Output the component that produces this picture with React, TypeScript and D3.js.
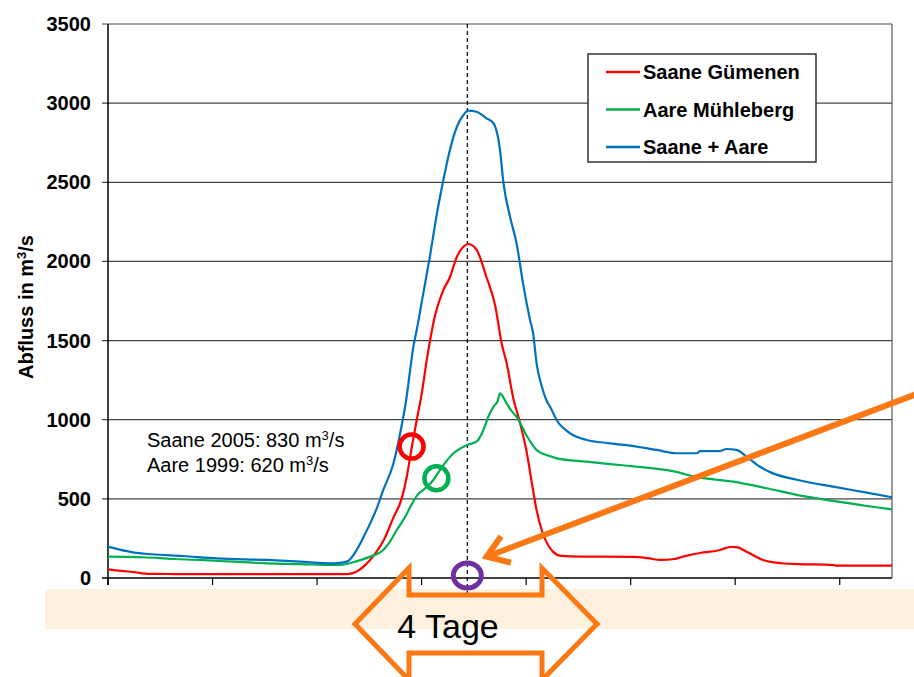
import React from 'react';
import * as d3 from 'd3';

// Abfluss (m3/s) over time (hours)
const saaneGuemenen: [number, number][] = [
  [0, 55], [3, 45], [5.7, 38], [9.6, 26], [15, 25], [30, 24], [45, 24], [54, 24], [55, 25],
  [57, 40], [59, 80], [61.5, 160], [63.5, 250], [65.5, 380], [67.4, 500], [68.6, 640],
  [69.7, 820], [70.9, 1000], [72, 1160], [73.2, 1380], [75.1, 1660], [77, 1820], [78.5, 1900],
  [80.1, 2030], [81.5, 2090], [82.7, 2110], [84.6, 2075], [86.9, 1900], [88.9, 1720],
  [90.4, 1480], [91.5, 1360], [93.1, 1130], [94.5, 990], [96.1, 800], [97.2, 620], [98.4, 430],
  [99.6, 300], [100.7, 225], [102.2, 165], [104, 140], [108.4, 135], [113, 135], [120.6, 134],
  [124, 125], [126.8, 114], [130, 120], [132, 135], [135.9, 158], [140.5, 177], [142.8, 196],
  [144.3, 195], [146.6, 166], [150.4, 114], [154.7, 93], [158.4, 88], [166.5, 82], [167.3, 78],
  [180, 78],
];

const aareMuehleberg: [number, number][] = [
  [0, 135], [8, 131], [15, 120], [21, 114], [28.8, 103], [36.4, 93], [44.1, 88], [51.7, 82],
  [54, 85], [57, 105], [60.2, 135], [63.2, 177], [64.5, 220], [66.3, 303], [68.5, 400],
  [69.8, 470], [71.2, 530], [72.4, 556], [74.7, 619], [76.2, 682], [79.3, 788], [82.4, 840],
  [84.6, 861], [86.2, 935], [87.3, 1019], [88.5, 1082], [89.5, 1120], [90, 1167], [90.8, 1140],
  [91.5, 1104], [93.1, 1040], [93.8, 1019], [96.1, 900], [98.4, 809], [101.5, 770], [103, 756],
  [109.9, 735], [117.5, 714], [125.2, 693], [129, 678], [135.9, 634], [143.5, 609],
  [151.2, 567], [158.4, 524], [166.5, 487], [174.2, 455], [180, 434],
];

const saanePlusAare: [number, number][] = [
  [0, 198], [5.7, 162], [10, 150], [17.2, 139], [25, 124], [36.4, 114], [44.1, 103], [51.7, 93],
  [54, 99], [55, 105], [57.1, 177], [58.5, 250], [60.2, 345], [61.7, 440], [63.2, 556],
  [65.5, 720], [67.4, 960], [68.6, 1150], [69.3, 1300], [70.1, 1460], [70.9, 1570],
  [72.4, 1800], [73.9, 2030], [75.5, 2300], [77, 2515], [78.5, 2704], [80.1, 2851], [81.6, 2925],
  [82.7, 2953], [84.6, 2946], [86.9, 2904], [88.5, 2873], [90, 2704], [90.8, 2494],
  [92.3, 2283], [93.8, 2115], [95.3, 1860], [96.9, 1630], [97.6, 1546], [98.4, 1356],
  [99.6, 1210], [100.7, 1120], [101.5, 1082], [103, 998], [106.1, 914], [109.9, 872],
  [115.3, 851], [121.4, 830], [126, 809], [130.6, 788], [135.2, 788], [135.9, 802],
  [140.5, 802], [142, 815], [144.3, 809], [146.6, 767], [149.7, 703], [152.7, 661],
  [158.4, 619], [166.5, 577], [174.2, 539], [180, 510],
];

const yTicks = [0, 500, 1000, 1500, 2000, 2500, 3000, 3500];
const dayTicks = [0, 24, 48, 72, 96, 120, 144, 168];

const peakHour = 82.5;
const saaneMark: [number, number] = [69.7, 830];
const aareMark: [number, number] = [75.4, 630];
const noteLines = ['Saane 2005: 830 m', 'Aare 1999: 620 m'];

const series = [
  { name: 'Saane Gümenen', color: '#ff0000', data: saaneGuemenen },
  { name: 'Aare Mühleberg', color: '#00b050', data: aareMuehleberg },
  { name: 'Saane + Aare', color: '#0070c0', data: saanePlusAare },
];

const W = 914;
const H = 677;
const left = 108, right = 892, top = 24, bottom = 578;
const orange = '#fb7814';
const font = '"Liberation Sans", Arial, sans-serif';

export default function App() {
  const x = d3.scaleLinear().domain([0, 180]).range([left, right]);
  const y = d3.scaleLinear().domain([0, 3500]).range([bottom, top]);
  const line = d3.line<[number, number]>().x(d => x(d[0])).y(d => y(d[1])).curve(d3.curveMonotoneX);

  // block arrow "4 Tage"
  const ay = 624;
  const tipL = 355, baseL = 409, baseR = 542, tipR = 597;
  const blockArrow = [
    [tipL, ay], [baseL, ay - 56], [baseL, ay - 29], [baseR, ay - 29], [baseR, ay - 56],
    [tipR, ay], [baseR, ay + 56], [baseR, ay + 29], [baseL, ay + 29], [baseL, ay + 56],
  ].map(p => p.join(',')).join(' ');

  // pointer arrow to the purple circle
  const tip: [number, number] = [486.7, 556.7];
  const tail: [number, number] = [930, 389];
  const ang = Math.atan2(tail[1] - tip[1], tail[0] - tip[0]);
  const head = [ang - 0.6, ang + 0.6].map(a => [tip[0] + 25 * Math.cos(a), tip[1] + 25 * Math.sin(a)]);

  return (
    <svg width={W} height={H} style={{ position: 'absolute', left: 0, top: 0, background: '#fff' }} fontFamily={font}>
      <rect x={45} y={589} width={W - 45} height={40} fill="#fdf1de" />

      {yTicks.map(t => (
        <g key={t}>
          <line x1={left - 6} x2={right} y1={y(t)} y2={y(t)} stroke={t === 0 ? '#000' : '#444'} strokeWidth={t === 0 ? 1.5 : 1.2} />
          <text x={91} y={y(t) + 7} textAnchor="end" fontSize={20} fontWeight="bold">{t}</text>
        </g>
      ))}
      {dayTicks.map(t => (
        <line key={t} x1={x(t)} x2={x(t)} y1={bottom} y2={bottom + 7} stroke="#000" strokeWidth={1.2} />
      ))}
      <line x1={left} x2={left} y1={top} y2={bottom + 7} stroke="#000" strokeWidth={1.5} />
      <line x1={right} x2={right} y1={top} y2={bottom} stroke="#555" strokeWidth={1.2} />

      <text transform={`translate(33,307) rotate(-90)`} textAnchor="middle" fontSize={20} fontWeight="bold">
        Abfluss in m<tspan dy={-7} fontSize={13}>3</tspan><tspan dy={7}>/s</tspan>
      </text>

      <line x1={x(peakHour)} x2={x(peakHour)} y1={top} y2={595} stroke="#000" strokeWidth={1.2} strokeDasharray="4,3" />

      {series.map(s => (
        <path key={s.name} d={line(s.data) || ''} fill="none" stroke={s.color} strokeWidth={2.2} strokeLinejoin="round" />
      ))}

      <rect x={588} y={54} width={228} height={108} fill="#fff" stroke="#333" strokeWidth={1.5} />
      {series.map((s, i) => (
        <g key={s.name} transform={`translate(606,${72 + i * 37.5})`}>
          <line x1={0} x2={34} y1={0} y2={0} stroke={s.color} strokeWidth={2.5} />
          <text x={37} y={7} fontSize={20} fontWeight="bold">{s.name}</text>
        </g>
      ))}

      {noteLines.map((t, i) => (
        <text key={t} x={147} y={447 + i * 25} fontSize={20}>
          {t}<tspan dy={-7} fontSize={13}>3</tspan><tspan dy={7}>/s</tspan>
        </text>
      ))}

      <circle cx={x(saaneMark[0])} cy={y(saaneMark[1])} r={12} fill="none" stroke="#ff0000" strokeWidth={4.5} />
      <circle cx={x(aareMark[0])} cy={y(aareMark[1])} r={12} fill="none" stroke="#00b050" strokeWidth={4.5} />
      <ellipse cx={x(peakHour)} cy={575.5} rx={14} ry={12.5} fill="none" stroke="#7030a0" strokeWidth={5} />

      <line x1={tail[0]} y1={tail[1]} x2={tip[0]} y2={tip[1]} stroke={orange} strokeWidth={6} />
      <polyline points={`${head[0].join(',')} ${tip.join(',')} ${head[1].join(',')}`} fill="none" stroke={orange} strokeWidth={6} strokeLinejoin="miter" />

      <polygon points={blockArrow} fill="none" stroke={orange} strokeWidth={5} strokeLinejoin="miter" />
      <text x={448} y={638} textAnchor="middle" fontSize={34}>4 Tage</text>
    </svg>
  );
}
